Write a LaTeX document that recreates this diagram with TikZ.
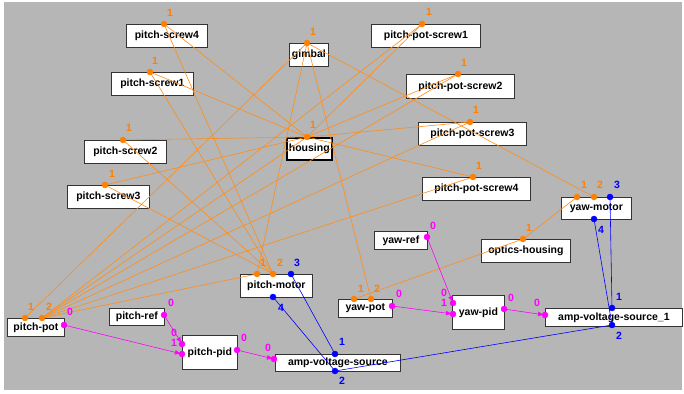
\documentclass[tikz,border=0pt]{standalone}
\usepackage{fontspec}
\setmainfont{Liberation Sans}
\usetikzlibrary{arrows.meta}
\definecolor{panel}{RGB}{182,182,182}
\definecolor{mech}{RGB}{255,128,0}
\definecolor{sig}{RGB}{255,0,255}
\definecolor{elec}{RGB}{0,0,255}

\begin{document}
\begin{tikzpicture}[x=1pt, y=-1pt,
    block/.style={draw=black!80, fill=white, line width=0.8pt, inner sep=0pt, anchor=north west,
        font=\fontsize{10.5}{12}\selectfont\bfseries},
    mline/.style={color=mech!90!white, line width=0.6pt},
    eline/.style={color=elec, line width=0.6pt},
    sline/.style={color=sig, line width=0.6pt, -{Triangle[length=5pt,width=4.5pt]}, shorten >=2pt},
    mlab/.style={color=mech, font=\fontsize{10.5}{12}\selectfont\bfseries, inner sep=0pt},
    elab/.style={color=elec, font=\fontsize{10.5}{12}\selectfont\bfseries, inner sep=0pt},
    slab/.style={color=sig, font=\fontsize{10.5}{12}\selectfont\bfseries, inner sep=0pt}]
    \useasboundingbox (0,0) rectangle (684,393);
    \fill[panel] (4,2) rectangle (682,390);
    % blocks
    \node[block, minimum width=81pt, minimum height=23pt] (pscrew4) at (126,24) {pitch-screw4};
    \node[block, minimum width=82pt, minimum height=23pt] (pscrew1) at (111,72) {pitch-screw1};
    \node[block, minimum width=82pt, minimum height=23pt] (pscrew2) at (84,140) {pitch-screw2};
    \node[block, minimum width=82pt, minimum height=23pt] (pscrew3) at (67,185) {pitch-screw3};
    \node[block, minimum width=39pt, minimum height=23pt] (gimbal) at (289,43) {gimbal};
    \node[block, minimum width=45pt, minimum height=22pt, line width=1.6pt, draw=black] (housing) at (286,137) {housing};
    \node[block, minimum width=109pt, minimum height=23pt] (ppscrew1) at (371,24) {pitch-pot-screw1};
    \node[block, minimum width=108pt, minimum height=24pt] (ppscrew2) at (406,74) {pitch-pot-screw2};
    \node[block, minimum width=108pt, minimum height=23pt] (ppscrew3) at (418,122) {pitch-pot-screw3};
    \node[block, minimum width=108pt, minimum height=23pt] (ppscrew4) at (422,177) {pitch-pot-screw4};
    \node[block, minimum width=70pt, minimum height=22pt] (yawmotor) at (561,197) {yaw-motor};
    \node[block, minimum width=89pt, minimum height=23pt] (optics) at (481,239) {optics-housing};
    \node[block, minimum width=53pt, minimum height=18pt] (yawref) at (374,231) {yaw-ref};
    \node[block, minimum width=54pt, minimum height=18pt] (yawpot) at (338,299) {yaw-pot};
    \node[block, minimum width=52pt, minimum height=34pt] (yawpid) at (452,295) {yaw-pid};
    \node[block, minimum width=137pt, minimum height=18pt] (amp1) at (545,308) {amp-voltage-source\_1};
    \node[block, minimum width=72pt, minimum height=23pt] (pitchmotor) at (240,274) {pitch-motor};
    \node[block, minimum width=125pt, minimum height=17pt] (amp) at (275,354) {amp-voltage-source};
    \node[block, minimum width=55pt, minimum height=34pt] (pitchpid) at (182,335) {pitch-pid};
    \node[block, minimum width=55pt, minimum height=17pt] (pitchref) at (109,308) {pitch-ref};
    \node[block, minimum width=57pt, minimum height=18pt] (pitchpot) at (7,318) {pitch-pot};
    % ports
    \coordinate (pscrew4-1) at (164,24);
    \coordinate (pscrew1-1) at (150,72);
    \coordinate (pscrew2-1) at (123,140);
    \coordinate (pscrew3-1) at (105,185);
    \coordinate (gimbal-1) at (307,43);
    \coordinate (housing-1) at (307,137);
    \coordinate (ppscrew1-1) at (422,24);
    \coordinate (ppscrew2-1) at (458,74);
    \coordinate (ppscrew3-1) at (470,122);
    \coordinate (ppscrew4-1) at (473,177);
    \coordinate (yawmotor-1) at (577,197);
    \coordinate (yawmotor-2) at (594,197);
    \coordinate (yawmotor-3) at (610,197);
    \coordinate (yawmotor-4) at (594,219);
    \coordinate (optics-1) at (523,239);
    \coordinate (yawref-0) at (427,237);
    \coordinate (yawpot-1) at (354,299);
    \coordinate (yawpot-2) at (371,299);
    \coordinate (yawpot-0) at (392,306);
    \coordinate (yawpid-i0) at (453,303);
    \coordinate (yawpid-i1) at (453,314);
    \coordinate (yawpid-o0) at (504,309);
    \coordinate (amp1-0) at (545,315);
    \coordinate (amp1-1) at (612,308);
    \coordinate (amp1-2) at (612,325);
    \coordinate (pitchmotor-1) at (257,274);
    \coordinate (pitchmotor-2) at (273,274);
    \coordinate (pitchmotor-3) at (291,274);
    \coordinate (pitchmotor-4) at (273,297);
    \coordinate (amp-0) at (274,359);
    \coordinate (amp-1) at (335,354);
    \coordinate (amp-2) at (335,371);
    \coordinate (pitchpid-i0) at (182,344);
    \coordinate (pitchpid-i1) at (182,354);
    \coordinate (pitchpid-o0) at (237,350);
    \coordinate (pitchref-0) at (164,315);
    \coordinate (pitchpot-1) at (25,318);
    \coordinate (pitchpot-2) at (42,318);
    \coordinate (pitchpot-0) at (64,325);
    % mechanical links
    \draw[mline] (pscrew4-1) -- (housing-1);
    \draw[mline] (pscrew4-1) -- (pitchmotor-2);
    \draw[mline] (pscrew1-1) -- (housing-1);
    \draw[mline] (pscrew1-1) -- (pitchmotor-2);
    \draw[mline] (pscrew2-1) -- (housing-1);
    \draw[mline] (pscrew2-1) -- (pitchmotor-2);
    \draw[mline] (pscrew3-1) -- (housing-1);
    \draw[mline] (pscrew3-1) -- (pitchmotor-2);
    \draw[mline] (ppscrew1-1) -- (housing-1);
    \draw[mline] (ppscrew1-1) -- (pitchpot-2);
    \draw[mline] (ppscrew2-1) -- (housing-1);
    \draw[mline] (ppscrew2-1) -- (pitchpot-2);
    \draw[mline] (ppscrew3-1) -- (housing-1);
    \draw[mline] (ppscrew3-1) -- (pitchpot-2);
    \draw[mline] (ppscrew4-1) -- (housing-1);
    \draw[mline] (ppscrew4-1) -- (pitchpot-2);
    \draw[mline] (pitchpot-2) -- (housing-1);
    \draw[mline] (pitchpot-2) -- (pitchmotor-1);
    \draw[mline] (pitchpot-1) -- (gimbal-1);
    \draw[mline] (pitchmotor-1) -- (gimbal-1);
    \draw[mline] (yawpot-2) -- (gimbal-1);
    \draw[mline] (yawmotor-2) -- (gimbal-1);
    \draw[mline] (yawpot-1) -- (optics-1);
    \draw[mline] (yawmotor-1) -- (optics-1);
    % electrical links
    \draw[eline] (pitchmotor-3) -- (amp-1);
    \draw[eline] (pitchmotor-4) -- (amp-2);
    \draw[eline] (yawmotor-3) -- (amp1-1);
    \draw[eline] (yawmotor-4) -- (amp1-2);
    \draw[eline] (amp1-2) -- (amp-2);
    % signals
    \draw[sline] (pitchpot-0) -- (pitchpid-i1);
    \draw[sline] (pitchref-0) -- (pitchpid-i0);
    \draw[sline] (pitchpid-o0) -- (amp-0);
    \draw[sline] (yawref-0) -- (yawpid-i0);
    \draw[sline] (yawpot-0) -- (yawpid-i1);
    \draw[sline] (yawpid-o0) -- (amp1-0);
    % drawing points
    \filldraw[color=mech] (pscrew4-1) circle (3pt);
    \filldraw[color=mech] (pscrew1-1) circle (3pt);
    \filldraw[color=mech] (pscrew2-1) circle (3pt);
    \filldraw[color=mech] (pscrew3-1) circle (3pt);
    \filldraw[color=mech] (gimbal-1) circle (3pt);
    \filldraw[color=mech] (housing-1) circle (3pt);
    \filldraw[color=mech] (ppscrew1-1) circle (3pt);
    \filldraw[color=mech] (ppscrew2-1) circle (3pt);
    \filldraw[color=mech] (ppscrew3-1) circle (3pt);
    \filldraw[color=mech] (ppscrew4-1) circle (3pt);
    \filldraw[color=mech] (yawmotor-1) circle (3pt);
    \filldraw[color=mech] (yawmotor-2) circle (3pt);
    \filldraw[color=mech] (optics-1) circle (3pt);
    \filldraw[color=mech] (yawpot-1) circle (3pt);
    \filldraw[color=mech] (yawpot-2) circle (3pt);
    \filldraw[color=mech] (pitchmotor-1) circle (3pt);
    \filldraw[color=mech] (pitchmotor-2) circle (3pt);
    \filldraw[color=mech] (pitchpot-1) circle (3pt);
    \filldraw[color=mech] (pitchpot-2) circle (3pt);
    \filldraw[color=elec] (yawmotor-3) circle (3pt);
    \filldraw[color=elec] (yawmotor-4) circle (3pt);
    \filldraw[color=elec] (amp1-1) circle (3pt);
    \filldraw[color=elec] (amp1-2) circle (3pt);
    \filldraw[color=elec] (pitchmotor-3) circle (3pt);
    \filldraw[color=elec] (pitchmotor-4) circle (3pt);
    \filldraw[color=elec] (amp-1) circle (3pt);
    \filldraw[color=elec] (amp-2) circle (3pt);
    \filldraw[color=sig] (yawref-0) circle (3pt);
    \filldraw[color=sig] (yawpot-0) circle (3pt);
    \filldraw[color=sig] (yawpid-i0) circle (3pt);
    \filldraw[color=sig] (yawpid-i1) circle (3pt);
    \filldraw[color=sig] (yawpid-o0) circle (3pt);
    \filldraw[color=sig] (amp1-0) circle (3pt);
    \filldraw[color=sig] (amp-0) circle (3pt);
    \filldraw[color=sig] (pitchpid-i0) circle (3pt);
    \filldraw[color=sig] (pitchpid-i1) circle (3pt);
    \filldraw[color=sig] (pitchpid-o0) circle (3pt);
    \filldraw[color=sig] (pitchref-0) circle (3pt);
    \filldraw[color=sig] (pitchpot-0) circle (3pt);
    % port labels
    \node[mlab] (pscrew4-1l) at (170,13) {1};
    \node[mlab] (pscrew1-1l) at (155,61) {1};
    \node[mlab] (pscrew2-1l) at (129,128) {1};
    \node[mlab] (pscrew3-1l) at (112,174) {1};
    \node[mlab] (gimbal-1l) at (313,32) {1};
    \node[mlab] (housing-1l) at (313,125) {1};
    \node[mlab] (ppscrew1-1l) at (429,12) {1};
    \node[mlab] (ppscrew2-1l) at (464,63) {1};
    \node[mlab] (ppscrew3-1l) at (476,110) {1};
    \node[mlab] (ppscrew4-1l) at (479,166) {1};
    \node[mlab] (yawmotor-1l) at (584,185) {1};
    \node[mlab] (yawmotor-2l) at (600,185) {2};
    \node[elab] (yawmotor-3l) at (617,185) {3};
    \node[elab] (yawmotor-4l) at (601,230) {4};
    \node[mlab] (optics-1l) at (529,228) {1};
    \node[slab] (yawref-0l) at (433,226) {0};
    \node[mlab] (yawpot-1l) at (361,289) {1};
    \node[mlab] (yawpot-2l) at (377,289) {2};
    \node[slab] (yawpot-0l) at (399,294) {0};
    \node[slab] (yawpid-i0l) at (444,293) {0};
    \node[slab] (yawpid-i1l) at (444,303) {1};
    \node[slab] (yawpid-o0l) at (511,298) {0};
    \node[slab] (amp1-0l) at (537,303) {0};
    \node[elab] (amp1-1l) at (619,297) {1};
    \node[elab] (amp1-2l) at (619,336) {2};
    \node[mlab] (pitchmotor-1l) at (263,263) {1};
    \node[mlab] (pitchmotor-2l) at (280,263) {2};
    \node[elab] (pitchmotor-3l) at (297,263) {3};
    \node[elab] (pitchmotor-4l) at (281,308) {4};
    \node[slab] (amp-0l) at (268,348) {0};
    \node[elab] (amp-1l) at (342,342) {1};
    \node[elab] (amp-2l) at (342,381) {2};
    \node[slab] (pitchpid-i0l) at (174,333) {0};
    \node[slab] (pitchpid-i1l) at (174,343) {1};
    \node[slab] (pitchpid-o0l) at (244,338) {0};
    \node[slab] (pitchref-0l) at (171,303) {0};
    \node[mlab] (pitchpot-1l) at (31,307) {1};
    \node[mlab] (pitchpot-2l) at (49,307) {2};
    \node[slab] (pitchpot-0l) at (70,312) {0};
\end{tikzpicture}
\end{document}
